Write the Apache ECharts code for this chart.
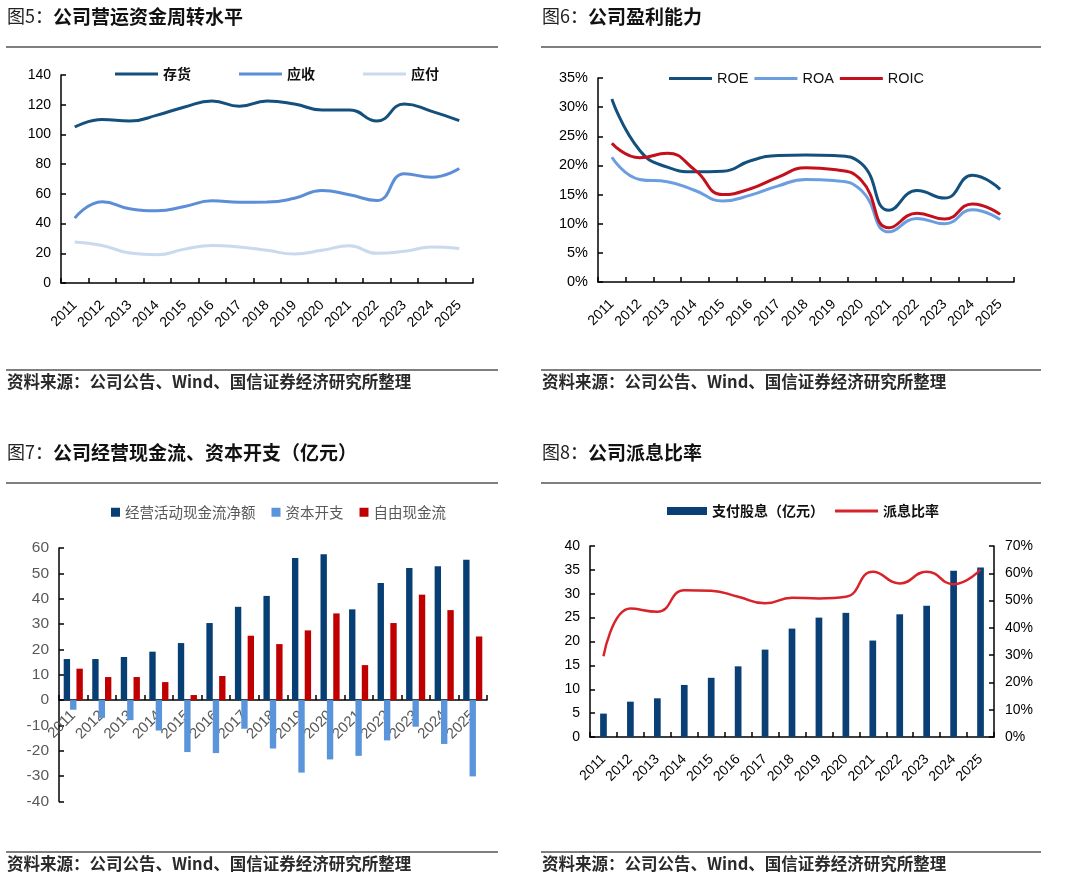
<!DOCTYPE html>
<html>
<head>
<meta charset="utf-8">
<script src="https://cdn.jsdelivr.net/npm/echarts@6/dist/echarts.min.js"></script>
<style>
html,body{margin:0;padding:0;background:#fff;}
#main{width:1080px;height:883px;}
</style>
</head>
<body>
<div id="main"></div>
<script>
const years = ['2011','2012','2013','2014','2015','2016','2017','2018','2019','2020','2021','2022','2023','2024','2025'];

// 图5 营运资金周转（天）
const inventoryDays  = [105, 110, 109, 113, 118.5, 122.5, 119, 122.5, 120.5, 116.5, 116.5, 109, 120.5, 115.5, 109.3];
const receivableDays = [43.7, 54.7, 50, 48.6, 51.5, 55.3, 54.4, 54.5, 57, 62.3, 59.4, 55.5, 73.5, 71.2, 77];
const payableDays    = [27.6, 25.3, 20.2, 19, 22.8, 25.3, 24.2, 22, 19.5, 22, 25, 20, 21.3, 24.2, 23.3];

// 图6 盈利能力（%）
const roe  = [31.4, 22.6, 19.7, 18.9, 19.0, 20.8, 21.7, 21.8, 21.7, 20.3, 12.3, 15.7, 14.4, 18.3, 15.9];
const roa  = [21.4, 17.6, 17.2, 15.7, 13.9, 14.9, 16.5, 17.6, 17.4, 15.7, 8.6, 10.9, 10.0, 12.4, 10.7];
const roic = [23.8, 21.3, 22.1, 19.2, 15.0, 16.0, 18.0, 19.6, 19.3, 17.4, 9.3, 11.8, 10.8, 13.4, 11.6];

// 图7 现金流（亿元）
const opCashFlow   = [16.2, 16.2, 17.0, 19.1, 22.5, 30.4, 36.8, 41.1, 56.1, 57.5, 35.8, 46.2, 52.1, 52.8, 55.4];
const capex        = [-3.8, -7.0, -7.9, -12.0, -20.5, -20.9, -11.3, -19.1, -28.6, -23.4, -22.0, -15.9, -10.5, -17.3, -30.1];
const freeCashFlow = [12.4, 9.1, 9.1, 7.1, 2.0, 9.5, 25.4, 22.1, 27.5, 34.2, 13.8, 30.4, 41.6, 35.5, 25.1];

// 图8 派息
const dividends   = [4.9, 7.4, 8.1, 10.9, 12.4, 14.8, 18.3, 22.7, 25.0, 26.0, 20.2, 25.7, 27.5, 34.8, 35.5];
const payoutRatio = [29.6, 47.1, 45.9, 53.8, 53.6, 51.4, 49.0, 51.0, 50.8, 51.4, 60.6, 56.3, 60.6, 56.0, 61.4];

const titles = [
  {pre:'图5：', body:'公司营运资金周转水平', x:7, y:18},
  {pre:'图6：', body:'公司盈利能力', x:542, y:18},
  {pre:'图7：', body:'公司经营现金流、资本开支（亿元）', x:7, y:454},
  {pre:'图8：', body:'公司派息比率', x:542, y:454}
];
const sourceText = '资料来源：公司公告、Wind、国信证券经济研究所整理';

const CJK = '"Noto Sans CJK SC", "Noto Sans", sans-serif';
const LAT = '"Liberation Sans", Arial, sans-serif';

// grid 3 geometry (value axis -40..60): zero line sits 40% up from the bottom
const grid3Height = 253.5;

function catAxis(gridIndex, extra) {
  const base = {
    type:'category', gridIndex, data: years, boundaryGap: true,
    axisLine:{show:true, onZero:false, lineStyle:{color:'#000', width:1.5}},
    axisTick:{show:true, inside:true, length:5, lineStyle:{color:'#000', width:1.5}},
    axisLabel:{rotate:45, margin:20, interval:0, color:'#000', fontSize:14, fontFamily:LAT},
    splitLine:{show:false}
  };
  if (extra) {
    if (extra.axisLabel) Object.assign(base.axisLabel, extra.axisLabel);
    if (extra.offset !== undefined) base.offset = extra.offset;
  }
  return base;
}
function valAxis(gridIndex, min, max, interval, extra) {
  const base = {
    type:'value', gridIndex, min, max, interval,
    axisLine:{show:true, lineStyle:{color:'#000', width:1.5}},
    axisTick:{show:true, inside:true, length:5, lineStyle:{color:'#000', width:1.5}},
    axisLabel:{margin:10, color:'#000', fontSize:14, fontFamily:LAT},
    splitLine:{show:false}
  };
  if (extra) {
    if (extra.axisLabel) Object.assign(base.axisLabel, extra.axisLabel);
    if (extra.position) base.position = extra.position;
  }
  return base;
}
function lineSeries(name, data, color, xi, yi) {
  return {name, type:'line', data, xAxisIndex:xi, yAxisIndex:yi, smooth:true, symbol:'none',
    lineStyle:{color, width:3}, itemStyle:{color}, z:3};
}

const graphics = [];
titles.forEach(t => {
  graphics.push({type:'text', left:t.x, top:t.y-11, style:{
    rich:{p:{fontSize:18, fontWeight:'normal', fill:'#222', fontFamily:CJK},
          b:{fontSize:19, fontWeight:'bold', fill:'#111', fontFamily:CJK}},
    text:'{p|'+t.pre+'}{b|'+t.body+'}'
  }});
});
[[6,47,498],[541,47,1041],[6,483,498],[541,483,1041]].forEach(l => {
  graphics.push({type:'line', shape:{x1:l[0], y1:l[1], x2:l[2], y2:l[1]}, style:{stroke:'#555', lineWidth:1.5}});
});
[[6,370,498,7,383],[541,370,1041,542,383],[6,852,498,7,865],[541,852,1041,542,865]].forEach(l => {
  graphics.push({type:'line', shape:{x1:l[0], y1:l[1], x2:l[2], y2:l[1]}, style:{stroke:'#555', lineWidth:1.5}});
  graphics.push({type:'text', left:l[3], top:l[4]-10, style:{text:sourceText, fontSize:16.5, fontWeight:'bold', fill:'#2a2a2a', fontFamily:CJK}});
});

const option = {
  animation:false,
  backgroundColor:'#fff',
  graphic: graphics,
  grid:[
    {left:61, top:75, width:412, height:208},
    {left:598, top:78, width:416, height:204},
    {left:59, top:548, width:428, height:grid3Height},
    {left:590, top:546, width:404, height:191}
  ],
  legend:[
    {left:110, top:62, data:['存货','应收','应付'], icon:'rect', itemWidth:43, itemHeight:3, itemGap:48,
     textStyle:{fontSize:14, fontWeight:'bold', color:'#111', fontFamily:CJK}},
    {left:664, top:66, data:['ROE','ROA','ROIC'], icon:'rect', itemWidth:43, itemHeight:3, itemGap:6,
     textStyle:{fontSize:14.5, color:'#111', fontFamily:LAT}},
    {left:106, top:500, data:['经营活动现金流净额','资本开支','自由现金流'], icon:'rect', itemWidth:9, itemHeight:9, itemGap:16,
     textStyle:{fontSize:14.5, color:'#595959', fontFamily:CJK}},
    {left:662, top:499, data:['支付股息（亿元）'], icon:'rect', itemWidth:40, itemHeight:8,
     textStyle:{fontSize:14, fontWeight:'bold', color:'#111', fontFamily:CJK}},
    {left:830, top:499, data:['派息比率'], icon:'rect', itemWidth:43, itemHeight:3,
     textStyle:{fontSize:14, fontWeight:'bold', color:'#111', fontFamily:CJK}}
  ],
  xAxis:[
    catAxis(0),
    catAxis(1),
    catAxis(2, {offset:-grid3Height*0.4, axisLabel:{margin:13, color:'#595959', fontSize:15}}),
    catAxis(3)
  ],
  yAxis:[
    valAxis(0, 0, 140, 20),
    valAxis(1, 0, 35, 5, {axisLabel:{formatter:'{value}%', fontSize:14.5}}),
    valAxis(2, -40, 60, 10, {axisLabel:{color:'#595959', fontSize:15.5}}),
    valAxis(3, 0, 40, 5),
    valAxis(3, 0, 70, 10, {position:'right', axisLabel:{formatter:'{value}%', margin:11}})
  ],
  series:[
    lineSeries('存货', inventoryDays, '#14507e', 0, 0),
    lineSeries('应收', receivableDays, '#5b8ed6', 0, 0),
    lineSeries('应付', payableDays, '#c9d9ee', 0, 0),
    lineSeries('ROE', roe, '#14507e', 1, 1),
    lineSeries('ROA', roa, '#6a9edf', 1, 1),
    lineSeries('ROIC', roic, '#c4101c', 1, 1),
    {name:'经营活动现金流净额', type:'bar', data:opCashFlow, xAxisIndex:2, yAxisIndex:2, barGap:'0%', barCategoryGap:'33%', itemStyle:{color:'#073e73'}},
    {name:'资本开支', type:'bar', data:capex, xAxisIndex:2, yAxisIndex:2, barGap:'0%', barCategoryGap:'33%', itemStyle:{color:'#5a95dc'}},
    {name:'自由现金流', type:'bar', data:freeCashFlow, xAxisIndex:2, yAxisIndex:2, barGap:'0%', barCategoryGap:'33%', itemStyle:{color:'#c00000'}},
    {name:'支付股息（亿元）', type:'bar', data:dividends, xAxisIndex:3, yAxisIndex:3, barWidth:6.7, itemStyle:{color:'#0a3f76'}},
    {name:'派息比率', type:'line', data:payoutRatio, xAxisIndex:3, yAxisIndex:4, smooth:true, symbol:'none', lineStyle:{color:'#d8232a', width:2.5}, itemStyle:{color:'#d8232a'}, z:3}
  ]
};
const chart = echarts.init(document.getElementById('main'));
chart.setOption(option);
</script>
</body>
</html>
